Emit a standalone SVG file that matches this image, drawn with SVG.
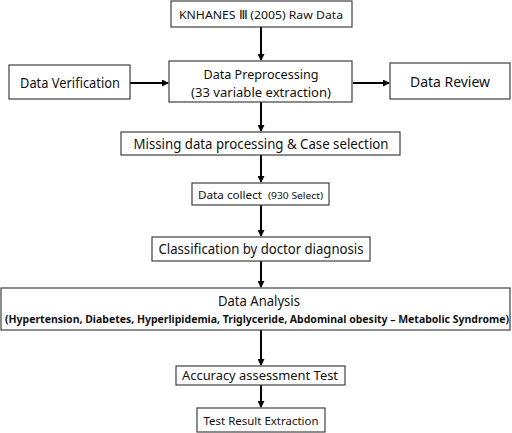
<svg xmlns="http://www.w3.org/2000/svg" width="512" height="433" viewBox="0 0 512 433">
<style>
.box{fill:#fff;stroke:#404040;stroke-width:1.2}
.t{font-family:"Noto Sans","Open Sans",sans-serif;fill:#111;text-anchor:middle}
.c{stroke:#000;stroke-width:2;fill:none}
</style>
<defs>
<marker id="ah" markerWidth="7" markerHeight="7" refX="6" refY="3.5" orient="auto" markerUnits="userSpaceOnUse">
<path d="M0,0 L7,3.5 L0,7 z" fill="#000"/>
</marker>
</defs>
<rect width="512" height="433" fill="#fff"/>
<g id="connectors">
<line class="c" x1="261" y1="27" x2="261" y2="60" marker-end="url(#ah)"/>
<line class="c" x1="130" y1="83" x2="168" y2="83" marker-end="url(#ah)"/>
<line class="c" x1="353" y1="83" x2="389" y2="83" marker-end="url(#ah)"/>
<line class="c" x1="261" y1="102" x2="261" y2="131" marker-end="url(#ah)"/>
<line class="c" x1="261" y1="155" x2="261" y2="182" marker-end="url(#ah)"/>
<line class="c" x1="261" y1="205" x2="261" y2="236" marker-end="url(#ah)"/>
<line class="c" x1="261" y1="261" x2="261" y2="287" marker-end="url(#ah)"/>
<line class="c" x1="261" y1="330" x2="261" y2="365" marker-end="url(#ah)"/>
<line class="c" x1="261" y1="385" x2="261" y2="407" marker-end="url(#ah)"/>
</g>
<g id="raw">
<rect class="box" x="171" y="1" width="181" height="26"/>
<text class="t" x="261" y="19" font-size="11.5" textLength="164" lengthAdjust="spacingAndGlyphs">KNHANES Ⅲ (2005) Raw Data</text>
</g>
<g id="verification">
<rect class="box" x="9" y="65" width="121" height="34"/>
<text class="t" x="70" y="88" font-size="14.5" textLength="100" lengthAdjust="spacingAndGlyphs">Data Verification</text>
</g>
<g id="preprocessing">
<rect class="box" x="169" y="61" width="183" height="41"/>
<text class="t" x="261" y="78.5" font-size="13" textLength="115" lengthAdjust="spacingAndGlyphs">Data Preprocessing</text>
<text class="t" x="261" y="96.5" font-size="13" textLength="140" lengthAdjust="spacingAndGlyphs">(33 variable extraction)</text>
</g>
<g id="review">
<rect class="box" x="390" y="63" width="120" height="36"/>
<text class="t" x="450" y="87" font-size="14" textLength="80" lengthAdjust="spacingAndGlyphs">Data Review</text>
</g>
<g id="missing">
<rect class="box" x="121" y="132" width="279" height="23"/>
<text class="t" x="261" y="149" font-size="14.5" textLength="255" lengthAdjust="spacingAndGlyphs">Missing data processing &amp; Case selection</text>
</g>
<g id="collect">
<rect class="box" x="192" y="183" width="137" height="22"/>
<text class="t" x="230" y="199" font-size="11.5" textLength="64" lengthAdjust="spacingAndGlyphs">Data collect</text>
<text class="t" x="295.5" y="199" font-size="9" textLength="55" lengthAdjust="spacingAndGlyphs">(930 Select)</text>
</g>
<g id="classification">
<rect class="box" x="152" y="237" width="218" height="24"/>
<text class="t" x="261" y="254" font-size="14.5" textLength="205" lengthAdjust="spacingAndGlyphs">Classification by doctor diagnosis</text>
</g>
<g id="analysis">
<rect class="box" x="1" y="288" width="509" height="42"/>
<text class="t" x="259" y="306" font-size="13.5" textLength="82" lengthAdjust="spacingAndGlyphs">Data Analysis</text>
<text class="t" x="257" y="323" font-size="10" font-weight="bold" textLength="504" lengthAdjust="spacingAndGlyphs">(Hypertension, Diabetes, Hyperlipidemia, Triglyceride, Abdominal obesity – Metabolic Syndrome)</text>
</g>
<g id="accuracy">
<rect class="box" x="176" y="366" width="169" height="19"/>
<text class="t" x="260" y="380" font-size="13" textLength="156" lengthAdjust="spacingAndGlyphs">Accuracy assessment Test</text>
</g>
<g id="result">
<rect class="box" x="197" y="408" width="128" height="24"/>
<text class="t" x="261" y="425" font-size="11.5" textLength="115" lengthAdjust="spacingAndGlyphs">Test Result Extraction</text>
</g>
</svg>
